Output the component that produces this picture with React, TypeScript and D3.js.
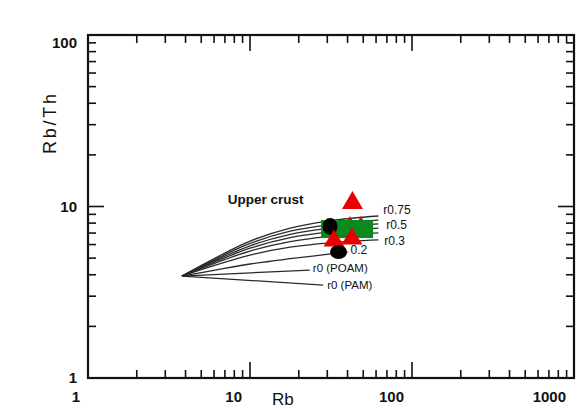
import React from "react";
import * as d3 from "d3";

// ---- data (Rb, Rb/Th) ----
const curveRb = [3.8, 6.1, 10, 17.7, 31, 62];
const curveR075 = [3.93, 5.01, 6.28, 7.49, 8.25, 8.8];
const curveR06 = [3.93, 4.93, 6.09, 7.18, 7.85, 8.34];
const curveR05 = [3.93, 4.85, 5.9, 6.88, 7.47, 7.91];
const curveR045 = [3.93, 4.77, 5.71, 6.59, 7.12, 7.49];
const curveR04 = [3.93, 4.68, 5.5, 6.24, 6.69, 7.01];
const curveR03 = [3.93, 4.55, 5.21, 5.79, 6.14, 6.38];
const curve02Rb = [3.8, 6.1, 10, 17.7, 28, 40];
const curveR02 = [3.93, 4.26, 4.62, 4.96, 5.22, 5.43];
const lineRb_POAM = [3.8, 23.4];
const lineR_POAM = [3.93, 4.26];
const lineRb_PAM = [3.8, 28.3];
const lineR_PAM = [3.93, 3.48];

const curveLabels = ["r0.75", "r0.5", "r0.3", "0.2", "r0 (POAM)", "r0 (PAM)"];

// markers
const redTrianglesBack = [
  { rb: 41.4, ratio: 8.12 },
  { rb: 48.4, ratio: 8.12 },
];
const greenSquares = [
  { rb: 31.2, ratio: 7.39 },
  { rb: 39.8, ratio: 7.39 },
  { rb: 50.6, ratio: 7.39 },
];
const blackCircles = [
  { rb: 31.2, ratio: 7.64 },
  { rb: 35.2, ratio: 5.43 },
];
const redTrianglesFront = [
  { rb: 33.0, ratio: 6.55 },
  { rb: 42.6, ratio: 6.73 },
  { rb: 42.9, ratio: 10.9 },
];

const xTickLabels = ["1", "10", "100", "1000"];
const yTickLabels = ["1", "10", "100"];
const upperCrust = { rb: 7.3, ratio: 10.9, text: "Upper crust" };

const W = 580;
const H = 410;
const L = 88, R = 574, T = 35, B = 378;

export default function App() {
  const x = d3.scaleLog().domain([1, 1000]).range([L, R]);
  const y = d3.scaleLog().domain([1, 100]).range([B, T]);

  const line = d3
    .line<[number, number]>()
    .x((d) => x(d[0]))
    .y((d) => y(d[1]))
    .curve(d3.curveMonotoneX);

  const zip = (a: number[], b: number[]) => a.map((v, i) => [v, b[i]] as [number, number]);

  const curves = [
    zip(curveRb, curveR075),
    zip(curveRb, curveR06),
    zip(curveRb, curveR05),
    zip(curveRb, curveR045),
    zip(curveRb, curveR04),
    zip(curveRb, curveR03),
    zip(curve02Rb, curveR02),
    zip(lineRb_POAM, lineR_POAM),
    zip(lineRb_PAM, lineR_PAM),
  ];
  // which curve each label belongs to, and pixel offsets (style)
  const labelCurve = [0, 2, 5, 6, 7, 8];
  const labelOff = [
    [5, -5],
    [8, 2],
    [6, 2],
    [3, -1],
    [3, -1],
    [4, 1],
  ];

  const xt = x.ticks().filter((v) => v > 1 && v < 1000);
  const yt = y.ticks().filter((v) => v > 1 && v < 100);
  const isMajor = (v: number) => Math.abs(Math.log10(v) - Math.round(Math.log10(v))) < 1e-9;

  const tri = (cx: number, cy: number, w: number, h: number) =>
    `M${cx},${cy - h / 2}L${cx + w / 2},${cy + h / 2}L${cx - w / 2},${cy + h / 2}Z`;

  const font = "'Liberation Sans', Arial, sans-serif";
  const red = "#e60000";
  const green = "#0a8a1e";

  return (
    <svg
      width={W}
      height={H}
      style={{ position: "absolute", left: 0, top: 0, background: "#fff" }}
      fontFamily={font}
    >
      <rect x={0} y={0} width={W} height={H} fill="#fff" />

      {/* ticks */}
      <g stroke="#111" strokeWidth={1.6}>
        {xt.map((v, i) => {
          const len = isMajor(v) ? 16 : 8;
          return (
            <g key={"x" + i}>
              <line x1={x(v)} x2={x(v)} y1={B} y2={B - len} />
              <line x1={x(v)} x2={x(v)} y1={T} y2={T + len} />
            </g>
          );
        })}
        {yt.map((v, i) => {
          const len = isMajor(v) ? 16 : 8;
          return (
            <g key={"y" + i}>
              <line x1={L} x2={L + len} y1={y(v)} y2={y(v)} />
              <line x1={R} x2={R - len} y1={y(v)} y2={y(v)} />
            </g>
          );
        })}
      </g>
      <rect x={L} y={T} width={R - L} height={B - T} fill="none" stroke="#111" strokeWidth={2.2} />

      {/* tick labels */}
      {xTickLabels.map((t) => (
        <text
          key={"xl" + t}
          x={x(+t) - 8}
          y={402}
          textAnchor="end"
          fontSize={15}
          fontWeight="bold"
          fill="#111"
        >
          {t}
        </text>
      ))}
      {yTickLabels.map((t) => (
        <text
          key={"yl" + t}
          x={77}
          y={y(+t) + (+t === 100 ? 13 : 5)}
          textAnchor="end"
          fontSize={15}
          fontWeight="bold"
          fill="#111"
        >
          {t}
        </text>
      ))}

      {/* axis titles */}
      <text x={272} y={405} fontSize={17} fill="#111">
        Rb
      </text>
      <text
        transform="translate(56,124) rotate(-90)"
        textAnchor="middle"
        fontSize={18}
        fill="#111"
        textLength={60}
        lengthAdjust="spacing"
      >
        Rb/Th
      </text>

      {/* model curves */}
      <g fill="none" stroke="#2a2a2a" strokeWidth={1.3}>
        {curves.map((c, i) => (
          <path key={"c" + i} d={line(c) || ""} />
        ))}
      </g>

      {/* curve labels */}
      {curveLabels.map((t, i) => {
        const c = curves[labelCurve[i]];
        const end = c[c.length - 1];
        const [dx, dy] = labelOff[i];
        const isPam = t.includes("(");
        return (
          <text
            key={"lab" + i}
            x={x(end[0]) + dx}
            y={y(end[1]) + dy}
            dominantBaseline="middle"
            fontSize={isPam ? 11.5 : 12}
            fill="#111"
          >
            {t}
          </text>
        );
      })}

      <text
        x={x(upperCrust.rb)}
        y={y(upperCrust.ratio)}
        dominantBaseline="middle"
        fontSize={13.5}
        fontWeight="bold"
        fill="#111"
      >
        {upperCrust.text}
      </text>

      {/* markers */}
      {redTrianglesBack.map((p, i) => (
        <path key={"tb" + i} d={tri(x(p.rb), y(p.ratio), 13, 12)} fill={red} />
      ))}
      {greenSquares.map((p, i) => (
        <rect key={"g" + i} x={x(p.rb) - 9} y={y(p.ratio) - 9} width={18} height={18} fill={green} />
      ))}
      <ellipse cx={x(blackCircles[0].rb)} cy={y(blackCircles[0].ratio)} rx={7.5} ry={8.5} fill="#000" />
      {redTrianglesFront.map((p, i) => (
        <path
          key={"tf" + i}
          d={tri(x(p.rb), y(p.ratio), 21, i === 2 ? 18 : 17)}
          fill={red}
        />
      ))}
      <ellipse cx={x(blackCircles[1].rb)} cy={y(blackCircles[1].ratio)} rx={8.5} ry={7} fill="#000" />
    </svg>
  );
}
